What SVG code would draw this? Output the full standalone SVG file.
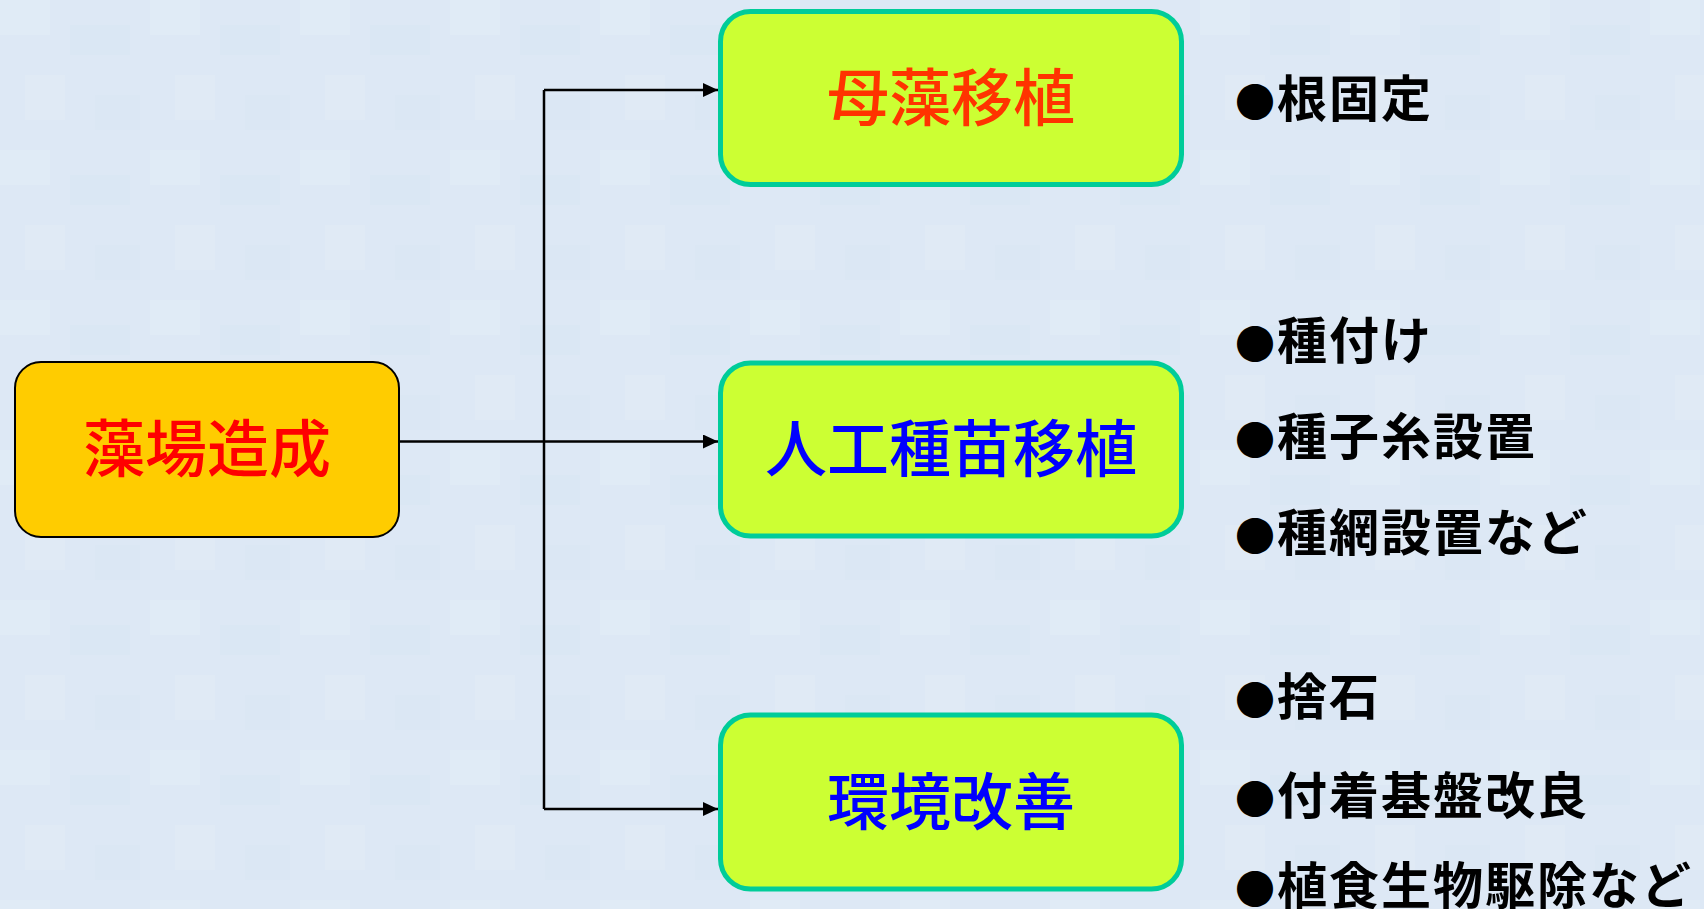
<svg xmlns="http://www.w3.org/2000/svg" width="1704" height="909" viewBox="0 0 1704 909">
<style>
.jp{font-family:"Noto Sans CJK JP","Noto Sans CJK SC",sans-serif;}
.box{font-size:62px;text-anchor:middle;font-weight:500;}
.green{fill:#CCFF33;stroke:#00CC99;stroke-width:5;}
.item{font-size:50px;font-weight:700;fill:#000;letter-spacing:2px;}
.dot{font-size:40px;}
.conn{fill:none;stroke:#000;stroke-width:2.5;}
</style>
<defs>
<marker id="arr" markerUnits="userSpaceOnUse" viewBox="0 0 15 14" refX="15" refY="7" markerWidth="15" markerHeight="14" orient="auto">
<path d="M0,0 L15,7 L0,14 z" fill="#000"/>
</marker>
<pattern id="tex" width="150" height="150" patternUnits="userSpaceOnUse">
<rect width="150" height="150" fill="#DDE8F5"/>
<rect x="0" y="0" width="50" height="35" fill="#E3ECF7" opacity="0.6"/>
<rect x="70" y="25" width="60" height="30" fill="#D8E5F3" opacity="0.5"/>
<rect x="25" y="75" width="40" height="45" fill="#E4EBF6" opacity="0.5"/>
<rect x="95" y="95" width="45" height="35" fill="#D9E6F4" opacity="0.5"/>
</pattern>
</defs>
<rect width="1704" height="909" fill="url(#tex)"/>
<g id="connectors">
<path class="conn" d="M399,441.5 H718" marker-end="url(#arr)"/>
<path class="conn" d="M544,90 V809"/>
<path class="conn" d="M544,90 H718" marker-end="url(#arr)"/>
<path class="conn" d="M544,809 H718" marker-end="url(#arr)"/>
</g>
<g id="node-main">
<rect x="15" y="362" width="384" height="175" rx="26" fill="#FFCC00" stroke="#000" stroke-width="2"/>
<text class="jp box" x="207" y="472" fill="#FF0000">藻場造成</text>
</g>
<g id="node-boso">
<rect class="green" x="720.5" y="11.5" width="461" height="173" rx="30"/>
<text class="jp box" x="951" y="121" fill="#FF3300">母藻移植</text>
</g>
<g id="node-jinko">
<rect class="green" x="720.5" y="363" width="461" height="173" rx="30"/>
<text class="jp box" x="951" y="472" fill="#0000FF">人工種苗移植</text>
</g>
<g id="node-kankyo">
<rect class="green" x="720.5" y="715" width="461" height="174" rx="30"/>
<text class="jp box" x="951" y="825" fill="#0000FF">環境改善</text>
</g>
<g id="notes-boso">
<text class="jp item" x="1235" y="117"><tspan class="dot">●</tspan>根固定</text>
</g>
<g id="notes-jinko">
<text class="jp item" x="1235" y="359"><tspan class="dot">●</tspan>種付け</text>
<text class="jp item" x="1235" y="455"><tspan class="dot">●</tspan>種子糸設置</text>
<text class="jp item" x="1235" y="551"><tspan class="dot">●</tspan>種網設置など</text>
</g>
<g id="notes-kankyo">
<text class="jp item" x="1235" y="715"><tspan class="dot">●</tspan>捨石</text>
<text class="jp item" x="1235" y="814"><tspan class="dot">●</tspan>付着基盤改良</text>
<text class="jp item" x="1235" y="904"><tspan class="dot">●</tspan>植食生物駆除など</text>
</g>
</svg>
